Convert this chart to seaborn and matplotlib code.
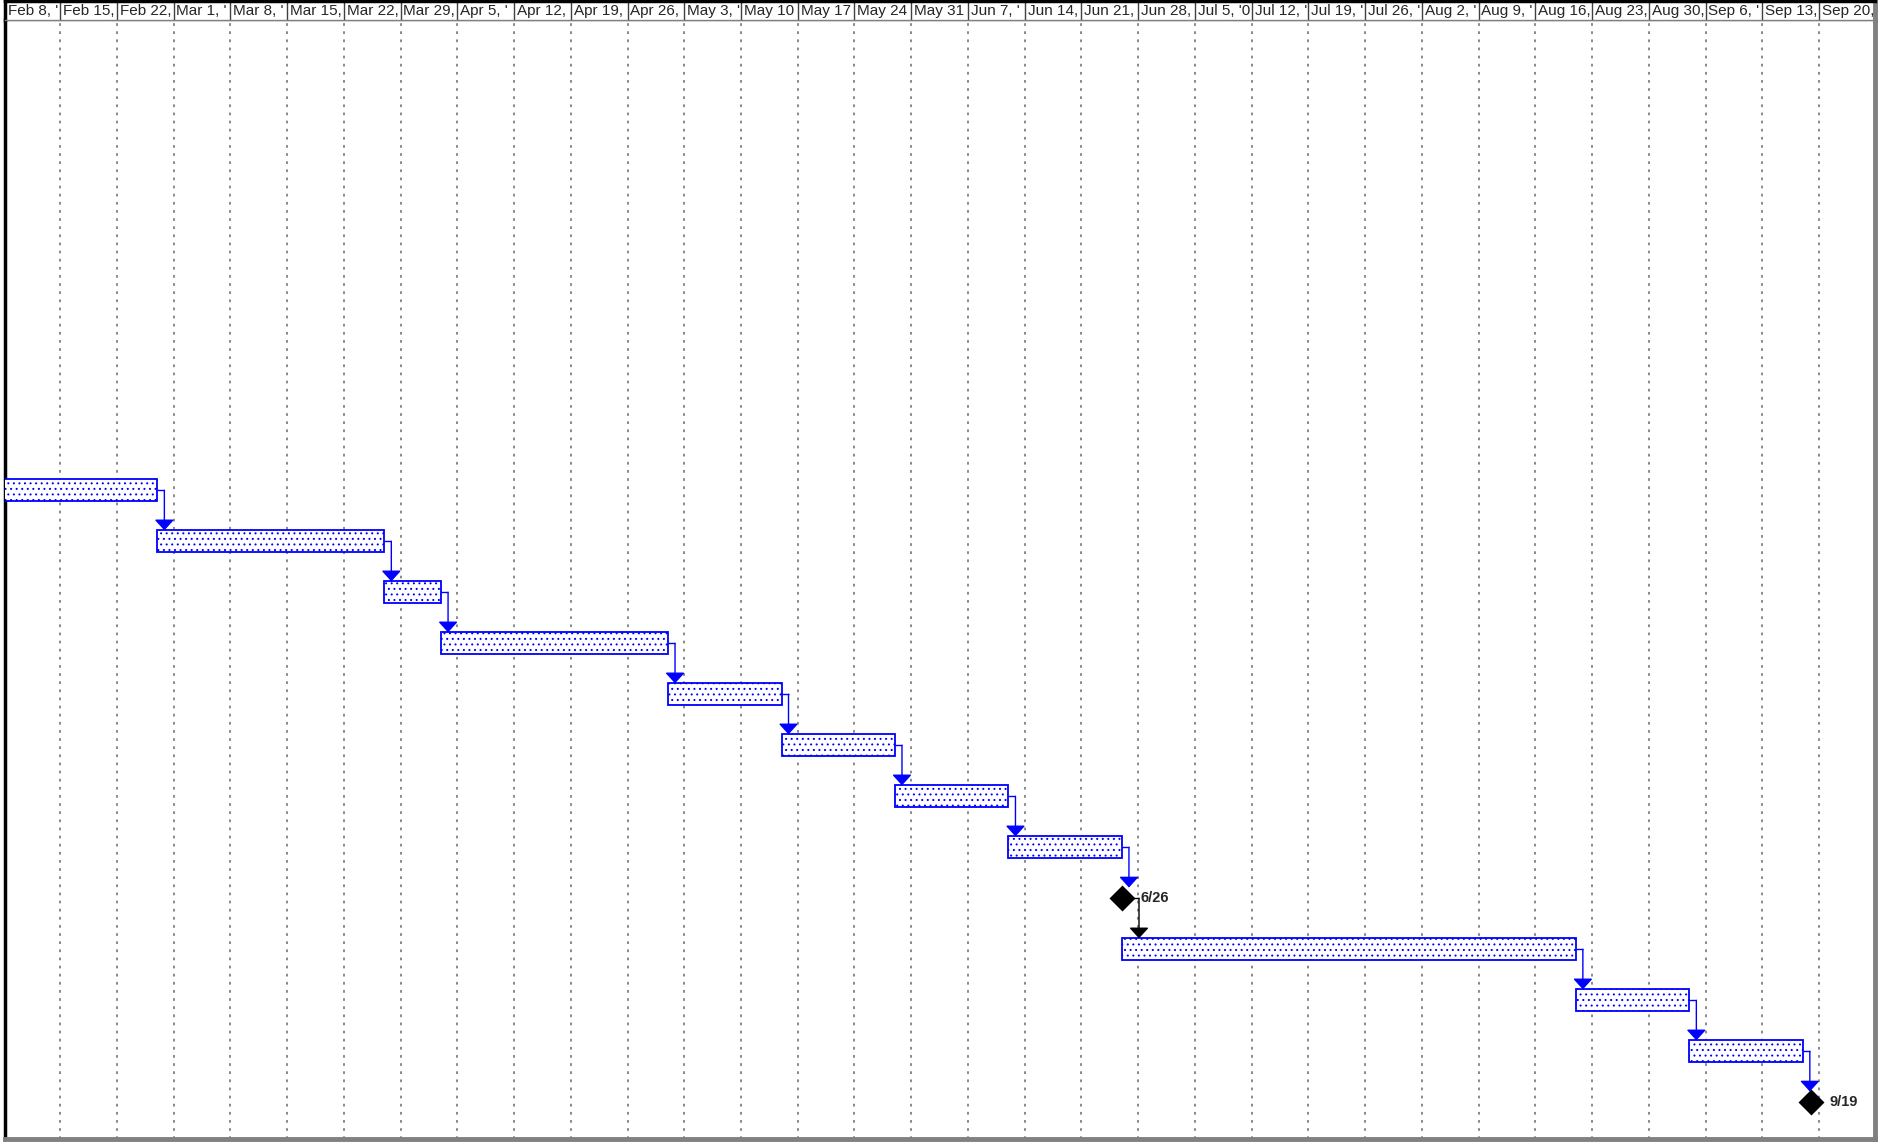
import matplotlib
matplotlib.use("Agg")
import matplotlib.pyplot as plt
import matplotlib.dates as mdates
import pandas as pd
import seaborn as sns

# timescale header (one cell per week, text cut off as in the original)
week_labels = ["Feb 8, '", "Feb 15,", "Feb 22,", "Mar 1, '", "Mar 8, '", "Mar 15,", "Mar 22,",
               "Mar 29,", "Apr 5, '", "Apr 12,", "Apr 19,", "Apr 26,", "May 3, '", "May 10",
               "May 17", "May 24", "May 31", "Jun 7, '", "Jun 14,", "Jun 21,", "Jun 28,",
               "Jul 5, '0", "Jul 12, '", "Jul 19, '", "Jul 26, '", "Aug 2, '", "Aug 9, '",
               "Aug 16,", "Aug 23,", "Aug 30,", "Sep 6, '", "Sep 13,", "Sep 20,"]
first_week = "2009-02-08"

# task bars
bar_rows = [0, 1, 2, 3, 4, 5, 6, 7, 9, 10, 11]
bar_starts = ["2009-01-30", "2009-02-27", "2009-03-27", "2009-04-03", "2009-05-01", "2009-05-15",
              "2009-05-29", "2009-06-12", "2009-06-26", "2009-08-21", "2009-09-04"]
bar_ends = ["2009-02-27", "2009-03-27", "2009-04-03", "2009-05-01", "2009-05-15", "2009-05-29",
            "2009-06-12", "2009-06-26", "2009-08-21", "2009-09-04", "2009-09-18"]

# milestones
ms_rows = [8, 12]
ms_dates = ["2009-06-26", "2009-09-19"]
ms_labels = ["6/26", "9/19"]

sns.set_theme(style="white")
plt.rcParams["font.family"] = ["Liberation Sans", "DejaVu Sans"]
plt.rcParams["hatch.linewidth"] = 0.7

W, H = 1889, 1143
L, R, T, B = 5, 1875, 20, 1139
fig = plt.figure(figsize=(W / 100, H / 100), dpi=100)
ax = fig.add_axes([L / W, 1 - B / H, (R - L) / W, (B - T) / H])
axh = fig.add_axes([L / W, 1 - T / H, (R - L) / W, (T - 1) / H])

d = lambda s: mdates.date2num(pd.Timestamp(s))
weeks = [mdates.date2num(t) for t in pd.date_range(first_week, periods=len(week_labels), freq="7D")]
x0, x1 = d("2009-02-08") + 0.2, d("2009-09-27") - 0.1
bar_h = 0.425
blue = "#0000ff"

# bars
starts = [d(s) for s in bar_starts]
ends = [d(s) for s in bar_ends]
ax.barh(bar_rows, [e - s for s, e in zip(starts, ends)], left=starts, height=bar_h,
        color="white", edgecolor=blue, linewidth=1.3, hatch="...", zorder=3)

# milestones
mx = [d(s) for s in ms_dates]
sns.scatterplot(x=mx, y=ms_rows, marker="D", s=175, color="black", edgecolor="black",
                linewidth=0, ax=ax, zorder=5, legend=False)
for x, y, lab in zip(mx, ms_rows, ms_labels):
    ax.text(x + 2.25, y, lab, fontsize=10.5, fontweight="bold", va="center", ha="left", zorder=6)

# links between consecutive items
items = {r: ("bar", e) for r, e in zip(bar_rows, ends)}
items.update({r: ("ms", x) for r, x in zip(ms_rows, mx)})
order = sorted(items)
for a, b in zip(order[:-1], order[1:]):
    kind, xe = items[a]
    if kind == "bar":
        xs, xl, col = xe, xe + 0.86, blue
    else:
        xs, xl, col = xe + 1.32, xe + 2.1, "black"
    top = b - (bar_h / 2 if items[b][0] == "bar" else 0.21)
    ax.plot([xs, xl], [a, a], color=col, lw=1.0, zorder=4, solid_capstyle="butt")
    ax.annotate("", xy=(xl, top), xytext=(xl, a),
                arrowprops=dict(arrowstyle="-|>,head_length=0.55,head_width=0.5", color=col,
                                lw=1.0, shrinkA=0, shrinkB=0), zorder=4)

# body axes
ax.set_xlim(x0, x1)
ax.set_ylim(12.72, -9.22)
ax.set_xticks(weeks[1:])
ax.set_xticklabels([])
ax.set_yticks([])
ax.tick_params(length=0)
ax.grid(axis="x", color="#808080", linestyle=(0, (1.5, 3)), linewidth=1.3, zorder=0)
ax.grid(axis="y", visible=False)
ax.set_axisbelow(True)
for side, col, lw in [("left", "black", 2.5), ("right", "#808080", 3.5),
                      ("bottom", "#808080", 3.5), ("top", "#808080", 1.0)]:
    ax.spines[side].set_color(col)
    ax.spines[side].set_linewidth(lw)
    ax.spines[side].set_visible(True)

# header axes
axh.set_xlim(x0, x1)
axh.set_ylim(0, 1)
axh.set_xticks([])
axh.set_yticks([])
axh.vlines(weeks[1:], 0, 1, color="#404040", lw=1.0)
for w, lab in zip(weeks, week_labels):
    axh.text(max(w, x0) + 0.35, 0.47, lab, fontsize=11, va="center", ha="left", clip_on=True)
for side, col, lw in [("left", "black", 2.5), ("right", "#808080", 3.5),
                      ("bottom", "#808080", 1.0), ("top", "black", 2.5)]:
    axh.spines[side].set_color(col)
    axh.spines[side].set_linewidth(lw)
    axh.spines[side].set_visible(True)

fig.savefig("out.png", dpi=100, facecolor="white")
